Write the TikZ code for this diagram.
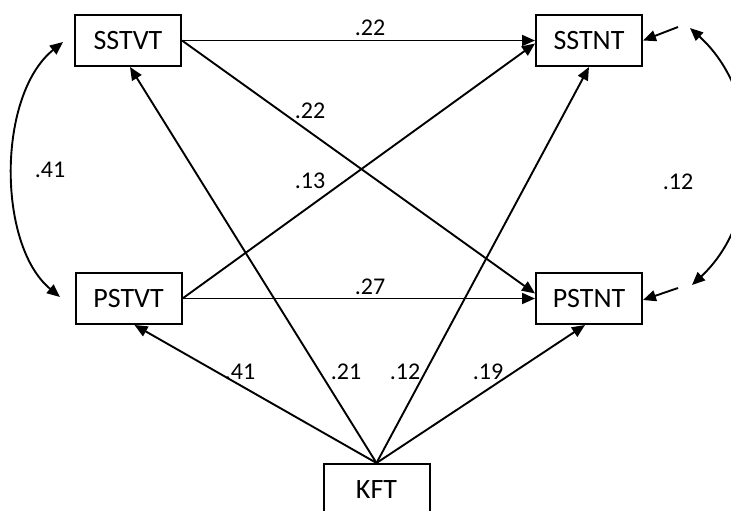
\documentclass[tikz,border=0pt]{standalone}
\usepackage{fontspec}
\setmainfont{Carlito}
\usetikzlibrary{arrows.meta}
\begin{document}
\begin{tikzpicture}[x=1pt,y=-1pt,
  box/.style={draw, line width=2pt, minimum width=106pt, minimum height=51pt, inner sep=0pt, font=\fontsize{28}{30}\selectfont},
  lbl/.style={inner sep=0pt, font=\fontsize{24}{26}\selectfont},
  conn/.style={line width=1.9pt, -{Triangle[length=13pt,width=11pt]}},
  bidir/.style={line width=1.9pt, {Triangle[length=13pt,width=11pt]}-{Triangle[length=13pt,width=11pt]}}
]
\fill[white] (0,0) rectangle (731,511);
\useasboundingbox (0,0) rectangle (731,511);

\node[box] (SSTVT) at (128,40.5) {SSTVT};
\node[box] (SSTNT) at (589,40.5) {SSTNT};
\node[box] (PSTVT) at (128.5,298.5) {PSTVT};
\node[box] (PSTNT) at (589,298.5) {PSTNT};
\node[box] (KFT) at (376.5,489.5) {KFT};

\coordinate (ea) at (678,27);
\coordinate (eb) at (678,288);
\coordinate (la) at (63,42);
\coordinate (lb) at (60,297);
\coordinate (ra) at (690,28);
\coordinate (rb) at (692,285);

% paths
\draw[conn] (SSTVT.east) -- (SSTNT.west);
\draw[conn] (SSTVT.east) -- ([yshift=5pt]PSTNT.west);
\draw[conn] (PSTVT.east) -- ([yshift=-3pt]SSTNT.west);
\draw[conn] (PSTVT.east) -- (PSTNT.west);
\draw[conn] (KFT.north) -- ([xshift=6pt]PSTVT.south);
\draw[conn] (KFT.north) -- ([xshift=2pt]SSTVT.south);
\draw[conn] (KFT.north) -- (SSTNT.south);
\draw[conn] (KFT.north) -- ([xshift=-4pt]PSTNT.south);

% residual arrows
\draw[conn] (ea) -- (SSTNT.east);
\draw[conn] (eb) -- ([yshift=-1.5pt]PSTNT.east);

% covariances
\draw[bidir] (la) .. controls (-3,95) and (-3,245) .. (lb);
\draw[bidir] (ra) .. controls (764,95) and (764,218) .. (rb);

% labels
\node[lbl] (l1) at (370,28) {.22};
\node[lbl] (l2) at (310,111) {.22};
\node[lbl] (l3) at (310,181) {.13};
\node[lbl] (l4) at (50,170) {.41};
\node[lbl] (l5) at (678,182) {.12};
\node[lbl] (l6) at (370,287) {.27};
\node[lbl] (l7) at (240,372) {.41};
\node[lbl] (l8) at (346,372) {.21};
\node[lbl] (l9) at (405,372) {.12};
\node[lbl] (l10) at (488,372) {.19};
\end{tikzpicture}
\end{document}
